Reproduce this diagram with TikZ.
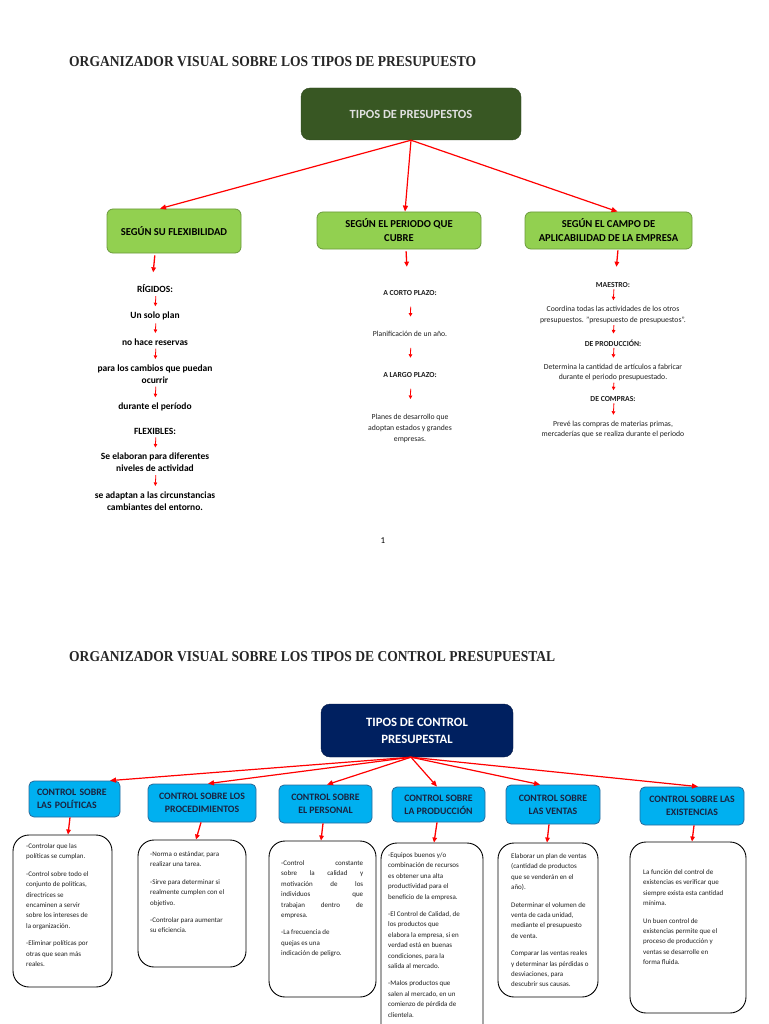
\documentclass[tikz,border=0pt]{standalone}
\usepackage{fontspec}
\setmainfont{Carlito}
\newfontfamily\titlefont{Liberation Serif}
\usetikzlibrary{arrows.meta}
\definecolor{dkgreen}{HTML}{385723}
\definecolor{ltgreen}{HTML}{92D050}
\definecolor{grnborder}{HTML}{6B9A3C}
\definecolor{navy}{HTML}{002060}
\definecolor{cyanbox}{HTML}{00B0F0}
\definecolor{cyanborder}{HTML}{2A6A9A}
\definecolor{cytext}{HTML}{1A2340}
\definecolor{arrred}{HTML}{FF0000}
\definecolor{titlegray}{HTML}{262626}
\definecolor{smalltext}{HTML}{202020}
\newcommand\jline[1]{\makebox[82pt][s]{#1}}
\begin{document}
\begin{tikzpicture}[x=1pt,y=-1pt,
 topbox/.style={draw=dkgreen!80!black, fill=dkgreen, rounded corners=9pt, text=white!88!black, font=\fontsize{12.5}{15}\selectfont\bfseries, align=center, inner sep=0pt},
 grnbox/.style={draw=grnborder, line width=0.8pt, fill=ltgreen, rounded corners=6pt, font=\fontsize{10.6}{14}\selectfont\bfseries, align=center, inner sep=0pt},
 navybox/.style={fill=navy, draw=navy!70!black, rounded corners=9pt, text=white, font=\fontsize{12.7}{17}\selectfont\bfseries, align=center, inner sep=0pt},
 cybox/.style={fill=cyanbox, draw=cyanborder, line width=0.8pt, rounded corners=5pt, text=cytext, font=\fontsize{9.8}{13}\selectfont\bfseries, align=center, inner sep=0pt},
 tbox/.style={draw=black, line width=0.9pt, rounded corners=16pt, inner sep=0pt},
 btxt/.style={anchor=north west, inner sep=0pt, align=left, text=smalltext, font=\fontsize{7}{10.4}\selectfont},
 lcol/.style={inner sep=0pt, align=center, font=\fontsize{9.5}{12}\selectfont\bfseries},
 mcol/.style={inner sep=0pt, align=center, text=smalltext, font=\fontsize{7.7}{11}\selectfont},
 rcol/.style={inner sep=0pt, align=center, text=smalltext, font=\fontsize{7.7}{10.5}\selectfont},
 bigarr/.style={draw=arrred, line width=1.2pt, -{Triangle[length=6pt,width=5pt]}},
 medarr/.style={draw=arrred, line width=1.3pt, -{Triangle[length=5pt,width=4.5pt]}},
 sarr/.style={draw=arrred, line width=0.8pt, -{Triangle[length=3.5pt,width=3.5pt]}},
 titlestyle/.style={anchor=base west, inner sep=0pt, text=titlegray}
]
\useasboundingbox[fill=white] (0,0) rectangle (768,1024);

% ---------- Titles ----------
\node[titlestyle] (title1) at (69,67) {\resizebox{407pt}{10pt}{\titlefont\bfseries ORGANIZADOR VISUAL SOBRE LOS TIPOS DE PRESUPUESTO}};
\node[titlestyle] (title2) at (69,661) {\resizebox{486pt}{10pt}{\titlefont\bfseries ORGANIZADOR VISUAL SOBRE LOS TIPOS DE CONTROL PRESUPUESTAL}};

% ---------- Top diagram ----------
\node[topbox, minimum width=220pt, minimum height=52pt] (tp) at (411,114) {TIPOS DE PRESUPESTOS};
\node[grnbox, minimum width=134pt, minimum height=44pt] (sflex) at (174,231) {SEGÚN SU FLEXIBILIDAD};
\node[grnbox, minimum width=164pt, minimum height=37pt] (sper) at (399,230.5) {SEGÚN EL PERIODO QUE\\CUBRE};
\node[grnbox, minimum width=167pt, minimum height=37pt] (scam) at (608.5,230.5) {SEGÚN EL CAMPO DE\\APLICABILIDAD DE LA EMPRESA};

\draw[bigarr] (tp.south) -- ([xshift=-14pt]sflex.north);
\draw[bigarr] (tp.south) -- ([xshift=6pt]sper.north);
\draw[bigarr] (tp.south) -- ([xshift=9pt]scam.north);

% left column
\node[lcol] (rig) at (155,289) {RÍGIDOS:};
\node[lcol] (plan) at (155,316) {Un solo plan};
\node[lcol] (res) at (155,342) {no hace reservas};
\node[lcol] (camb) at (155,374) {para los cambios que puedan\\ocurrir};
\node[lcol] (dur) at (155,407) {durante el período};
\node[lcol] (flex) at (155,431) {FLEXIBLES:};
\node[lcol] (elab) at (155,462.5) {Se elaboran para diferentes\\niveles de actividad};
\node[lcol] (adap) at (155,501) {se adaptan a las circunstancias\\cambiantes del entorno.};

\draw[medarr, shorten <=2pt, shorten >=12.5pt] ([xshift=-19pt]sflex.south) -- ([xshift=-3pt]rig.north);
\begin{scope}[sarr, shorten <=3pt, shorten >=5.5pt]
\draw ([xshift=1pt]rig.south) -- (plan.north);
\draw ([xshift=1pt]plan.south) -- (res.north);
\draw ([xshift=1pt]res.south) -- (camb.north);
\draw ([xshift=1pt]camb.south) -- (dur.north);
\draw ([xshift=1pt]flex.south) -- (elab.north);
\draw ([xshift=1pt]elab.south) -- (adap.north);
\end{scope}

% middle column
\node[mcol] (cp) at (410,293) {\textbf{A CORTO PLAZO:}};
\node[mcol] (plan1) at (410,334) {Planificación de un año.};
\node[mcol] (lp) at (410,375) {\textbf{A LARGO PLAZO:}};
\node[mcol] (pd) at (410,428) {Planes de desarrollo que\\adoptan estados y grandes\\empresas.};

\draw[medarr, shorten <=2pt, shorten >=23.5pt] ([xshift=7pt]sper.south) -- ([xshift=-2pt]cp.north);
\begin{scope}[sarr, shorten <=11pt, shorten >=14.5pt]
\draw ([xshift=1pt]cp.south) -- (plan1.north);
\draw ([xshift=1pt]plan1.south) -- (lp.north);
\draw ([xshift=1pt]lp.south) -- (pd.north);
\end{scope}

% right column
\node[rcol] (mae) at (613,285) {\textbf{MAESTRO:}};
\node[rcol] (coord) at (613,315) {Coordina todas las actividades de los otros\\presupuestos. "presupuesto de presupuestos".};
\node[rcol] (dp) at (613,343) {\textbf{DE PRODUCCIÓN:}};
\node[rcol] (det) at (613,372.5) {Determina la cantidad de artículos a fabricar\\durante el periodo presupuestado.};
\node[rcol] (dc) at (613,399) {\textbf{DE COMPRAS:}};
\node[rcol] (prev) at (613,429.5) {Prevé las compras de materias primas,\\mercaderías que se realiza durante el periodo};

\draw[medarr, shorten <=1pt, shorten >=15.5pt] ([xshift=9.5pt]scam.south) -- ([xshift=2pt]mae.north);
\begin{scope}[sarr, shorten <=1.5pt, shorten >=6pt]
\draw ([xshift=1pt]mae.south) -- (coord.north);
\draw ([xshift=1pt]coord.south) -- (dp.north);
\draw ([xshift=1pt]dp.south) -- (det.north);
\draw ([xshift=1pt]det.south) -- (dc.north);
\draw ([xshift=1pt]dc.south) -- (prev.north);
\end{scope}

% page number
\node[inner sep=0pt, font=\fontsize{9}{11}\selectfont] (pnum) at (383,541) {1};

% ---------- Bottom diagram ----------
\node[navybox, minimum width=192pt, minimum height=53pt] (tc) at (417,730.5) {TIPOS DE CONTROL\\PRESUPESTAL};

\node[cybox, text width=75pt, inner xsep=8pt, align=left, minimum height=36pt] (c1) at (74.5,799) {CONTROL SOBRE\\LAS POLÍTICAS};
\node[cybox, minimum width=108pt, minimum height=38pt] (c2) at (202,803) {CONTROL SOBRE LOS\\PROCEDIMIENTOS};
\node[cybox, minimum width=93pt, minimum height=38pt] (c3) at (325.5,804) {CONTROL SOBRE\\EL PERSONAL};
\node[cybox, minimum width=93pt, minimum height=35pt] (c4) at (438.5,804.5) {CONTROL SOBRE\\LA PRODUCCIÓN};
\node[cybox, minimum width=94pt, minimum height=39pt] (c5) at (553,804.5) {CONTROL SOBRE\\LAS VENTAS};
\node[cybox, minimum width=104pt, minimum height=38pt] (c6) at (692,806) {CONTROL SOBRE LAS\\EXISTENCIAS};

\draw[bigarr] ([xshift=-6pt]tc.south) -- ([xshift=35.5pt]c1.north);
\draw[bigarr] ([xshift=-6pt]tc.south) -- ([xshift=6pt]c2.north);
\draw[bigarr] ([xshift=-6pt]tc.south) -- ([xshift=1.5pt]c3.north);
\draw[bigarr] ([xshift=-6pt]tc.south) -- ([xshift=-1.5pt]c4.north);
\draw[bigarr] ([xshift=-6pt]tc.south) -- ([xshift=-13pt]c5.north);
\draw[bigarr] ([xshift=-6pt]tc.south) -- ([xshift=6pt]c6.north);

% text frames
\node[tbox, minimum width=99pt, minimum height=152pt] (tA) at (62.5,911) {};
\node[tbox, minimum width=108pt, minimum height=127pt] (tB) at (192,903.5) {};
\node[tbox, minimum width=107pt, minimum height=156pt] (tC) at (322.5,919) {};
\node[tbox, minimum width=102pt, minimum height=197pt] (tD) at (432,941.5) {};
\node[tbox, minimum width=100pt, minimum height=154pt] (tE) at (548,920) {};
\node[tbox, minimum width=116pt, minimum height=171pt] (tF) at (688,927.5) {};

\draw[medarr] ([xshift=-4.5pt]c1.south) -- ([xshift=5.5pt]tA.north);
\draw[medarr] ([xshift=-1pt]c2.south) -- ([xshift=4pt]tB.north);
\draw[medarr] ([xshift=-2.5pt]c3.south) -- ([xshift=-1.5pt]tC.north);
\draw[medarr] ([xshift=-1.5pt]c4.south) -- ([xshift=2pt]tD.north);
\draw[medarr] ([xshift=-4pt]c5.south) -- ([xshift=-1pt]tE.north);
\draw[medarr] ([xshift=2pt]c6.south) -- ([xshift=4pt]tF.north);

% texts
\node[btxt] (xA) at (26,843.5) {-Controlar que las\\políticas se cumplan.\\[7pt]-Control sobre todo el\\conjunto de políticas,\\directrices se\\encaminen a servir\\sobre los intereses de\\la organización.\\[7pt]-Eliminar políticas por\\otras que sean más\\reales.};
\node[btxt] (xB) at (150,851.5) {-Norma o estándar, para\\realizar una tarea.\\[7pt]-Sirve para determinar si\\realmente cumplen con el\\objetivo.\\[7pt]-Controlar para aumentar\\su eficiencia.};
\node[btxt] (xC) at (281,860.5) {\jline{-Control constante}\\\jline{sobre la calidad y}\\\jline{motivación de los}\\\jline{individuos que}\\\jline{trabajan dentro de}\\empresa.\\[7pt]-La frecuencia de\\quejas es una\\indicación de peligro.};
\node[btxt] (xD) at (388,852.5) {-Equipos buenos y/o\\combinación de recursos\\es obtener una alta\\productividad para el\\beneficio de la empresa.\\[7pt]-El Control de Calidad, de\\los productos que\\elabora la empresa, si en\\verdad está en buenas\\condiciones, para la\\salida al mercado.\\[7pt]-Malos productos que\\salen al mercado, en un\\comienzo de pérdida de\\clientela.};
\node[btxt] (xE) at (511,853.5) {Elaborar un plan de ventas\\(cantidad de productos\\que se venderán en el\\año).\\[7pt]Determinar el volumen de\\venta de cada unidad,\\mediante el presupuesto\\de venta.\\[7pt]Comparar las ventas reales\\y determinar las pérdidas o\\desviaciones, para\\descubrir sus causas.};
\node[btxt] (xF) at (643,869.5) {La función del control de\\existencias es verificar que\\siempre exista esta cantidad\\mínima.\\[7pt]Un buen control de\\existencias permite que el\\proceso de producción y\\ventas se desarrolle en\\forma fluida.};
\end{tikzpicture}
\end{document}
